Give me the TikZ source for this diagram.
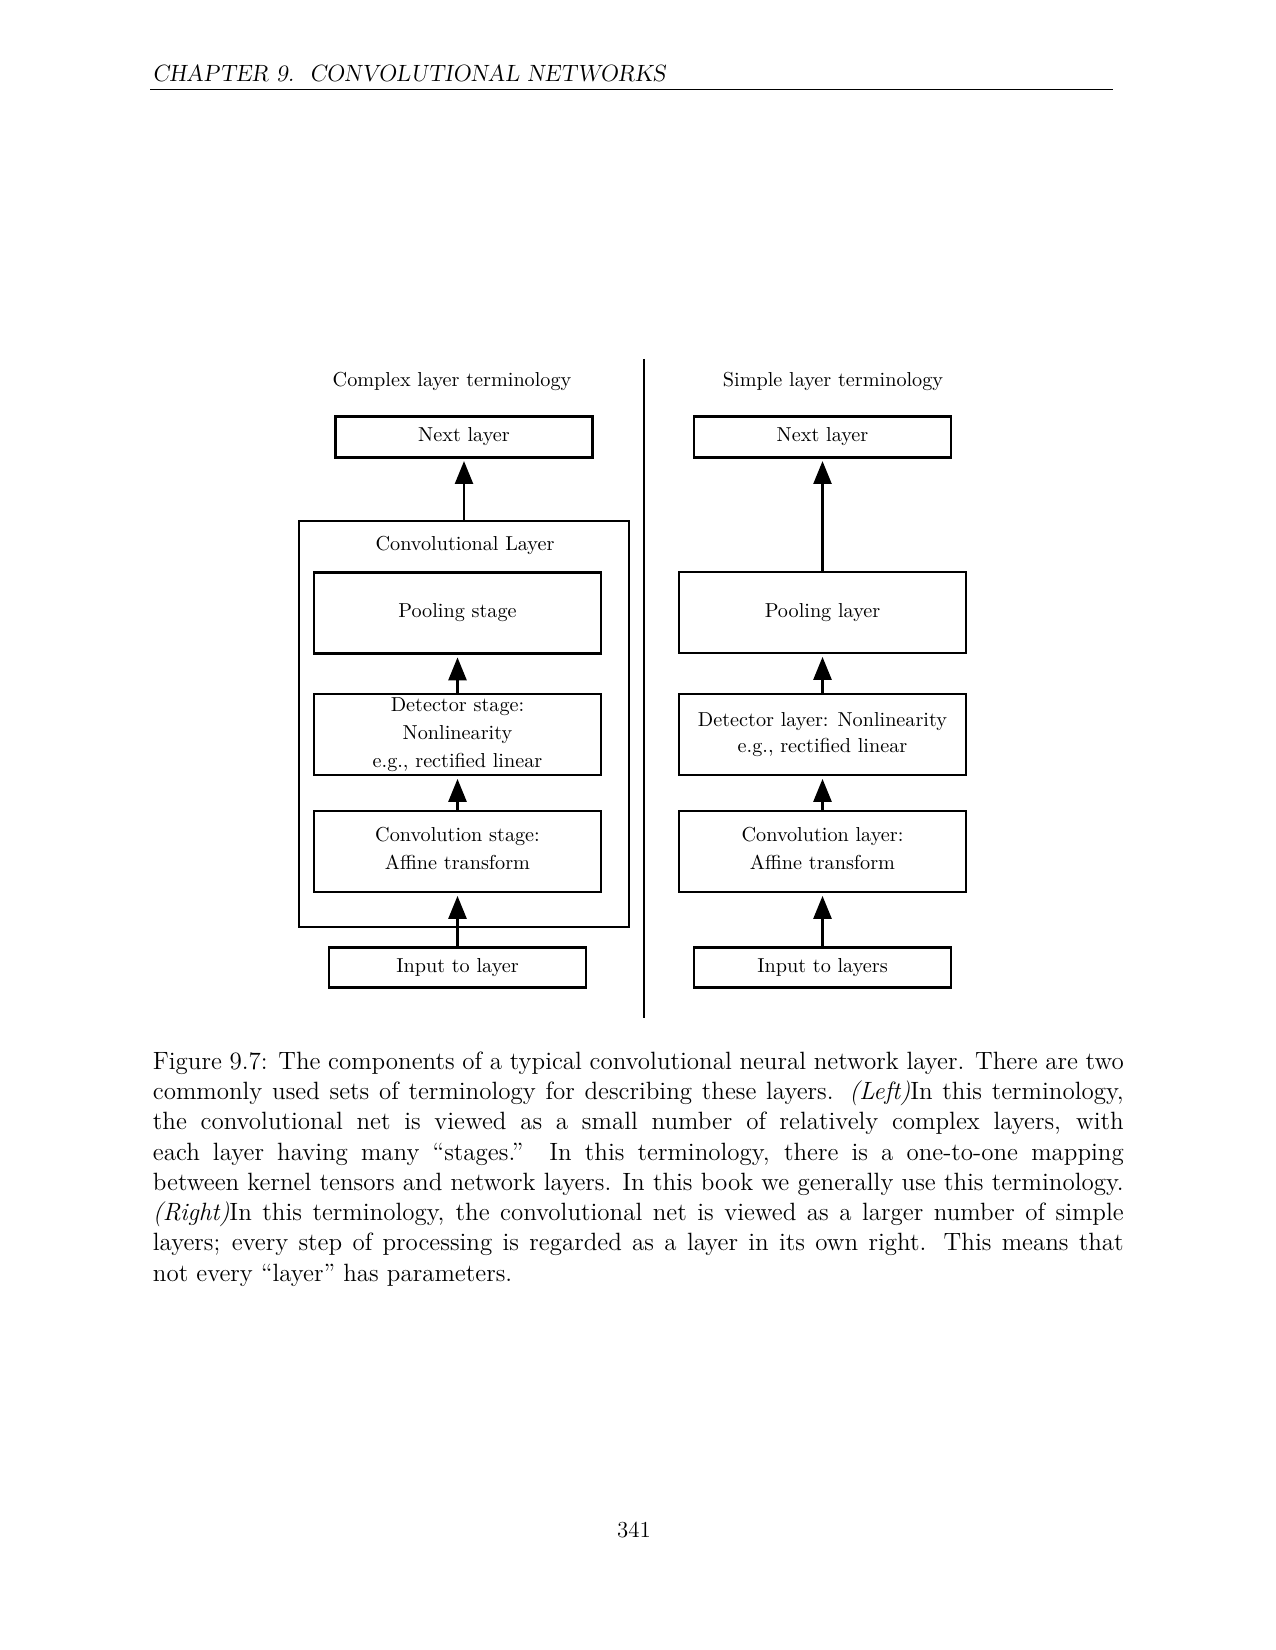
\documentclass[tikz,border=0pt]{standalone}
\usetikzlibrary{arrows.meta}

% fonts used on the page
\newcommand\figfont{\fontsize{9.7}{13.4}\selectfont}
\newcommand\pagefont{\fontsize{11}{14.4}\selectfont}
\newcommand\headfont{\fontsize{11.3}{14.4}\selectfont}
\newcommand\capfont{\fontsize{12}{14.5}\selectfont}

\tikzset{
  stagebox/.style={draw, line width=1.3pt, inner sep=0pt, align=center, font=\figfont},
  smallbox/.style={stagebox, minimum width=123.4pt, minimum height=19.4pt},
  bigbox/.style={stagebox, minimum width=137.8pt, minimum height=38.9pt},
  flow/.style={line width=1.3pt, -{Triangle[length=11pt,width=8.6pt]}, shorten >=1.2pt},
  title/.style={inner sep=0pt, anchor=base, font=\figfont},
}

\begin{document}
\begin{tikzpicture}[x=0.48pt, y=-0.48pt]
  % page
  \fill[white] (0,0) rectangle (1275,1650);
  \useasboundingbox (0,0) rectangle (1275,1650);

  % running head
  \node[inner sep=0pt, anchor=base west, font=\headfont\slshape] (head) at (152,82)
    {CHAPTER 9.\ \ CONVOLUTIONAL NETWORKS};
  \coordinate (ruleL) at (150,89.5);
  \coordinate (ruleR) at (1113,89.5);
  \draw[line width=0.9pt] (ruleL) -- (ruleR);

  % divider between the two columns
  \coordinate (divtop) at (644,359);
  \coordinate (divbot) at (644,1018);
  \draw[line width=1.2pt] (divtop) -- (divbot);

  % ---- left column: complex layer terminology
  \node[title] (titleL) at (452,387) {Complex layer terminology};
  \node[smallbox] (nextL) at (464,437) {Next layer};
  \node[draw, line width=1.3pt, inner sep=0pt, minimum width=158.4pt, minimum height=194.9pt]
    (convL) at (464,724) {};
  \node[title] (convLtitle) at (465,550) {Convolutional Layer};
  \node[bigbox] (poolL) at (457.5,613) {Pooling stage};
  \node[bigbox] (detL) at (457.5,734.5) {Detector stage:\\Nonlinearity\\e.g., rectified linear};
  \node[bigbox, text depth=3pt] (cnvL) at (457.5,851.5) {Convolution stage:\\Affine transform};
  \node[smallbox] (inL) at (457.5,967.5) {Input to layer};

  \draw[flow] (inL) -- (cnvL);
  \draw[flow] (cnvL) -- (detL);
  \draw[flow] (detL) -- (poolL);
  \draw[flow] (convL) -- (nextL);

  % ---- right column: simple layer terminology
  \node[title] (titleR) at (833,387) {Simple layer terminology};
  \node[smallbox] (nextR) at (822.5,437) {Next layer};
  \node[bigbox] (poolR) at (822.5,612.5) {Pooling layer};
  \node[bigbox, font=\fontsize{9.7}{12.5}\selectfont] (detR) at (822.5,734.5)
    {Detector layer: Nonlinearity\\e.g., rectified linear};
  \node[bigbox, text depth=3pt] (cnvR) at (822.5,851.5) {Convolution layer:\\Affine transform};
  \node[smallbox] (inR) at (822.5,967.5) {Input to layers};

  \draw[flow] (inR) -- (cnvR);
  \draw[flow] (cnvR) -- (detR);
  \draw[flow] (detR) -- (poolR);
  \draw[flow] (poolR) -- (nextR);

  % caption (anchored at the baseline of its last line)
  \node[inner sep=0pt, anchor=base west, align=left, font=\capfont] (caption) at (152.5,1281)
  {\hbox to 466pt{Figure 9.7: The components of a typical convolutional neural network layer. There are two}\\
   \hbox to 466pt{commonly used sets of terminology for describing these layers. \textit{(Left)}In this terminology,}\\
   \hbox to 466pt{the convolutional net is viewed as a small number of relatively complex layers, with}\\
   \hbox to 466pt{each layer having many ``stages.'' In this terminology, there is a one-to-one mapping}\\
   \hbox to 466pt{between kernel tensors and network layers. In this book we generally use this terminology.}\\
   \hbox to 466pt{\textit{(Right)}In this terminology, the convolutional net is viewed as a larger number of simple}\\
   \hbox to 466pt{layers; every step of processing is regarded as a layer in its own right. This means that}\\
   \hbox{not every ``layer'' has parameters.}};

  % page number
  \node[inner sep=0pt, anchor=base, font=\pagefont] (folio) at (634,1537) {341};
\end{tikzpicture}
\end{document}
